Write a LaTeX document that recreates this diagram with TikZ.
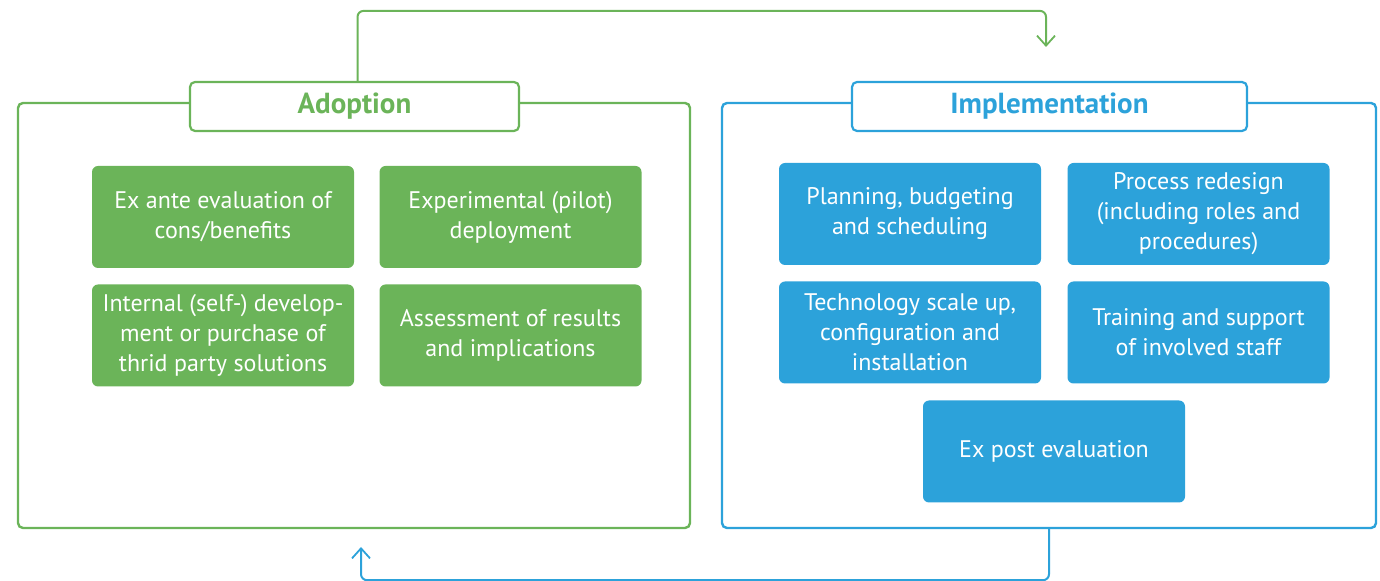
\documentclass[tikz,border=0pt]{standalone}
\usepackage{fontspec}
\setmainfont{PT Sans}
\usepackage{tikz}
\usetikzlibrary{positioning,arrows.meta}
\definecolor{adoptgreen}{RGB}{107,180,89}
\definecolor{implblue}{RGB}{44,162,218}

\begin{document}
\begin{tikzpicture}[
    x=0.5pt, y=-0.5pt,
    on grid,
    font=\fontsize{12}{15}\selectfont,
    frame/.style={draw=#1, line width=1.2pt, rounded corners=2.5pt,
        minimum height=212.5pt, inner sep=0pt},
    title/.style={draw=#1, line width=1.1pt, fill=white, rounded corners=2.5pt,
        minimum height=24.5pt, text=#1, font=\fontsize{14.5}{16}\bfseries},
    gbox/.style={fill=adoptgreen, rounded corners=3pt, text=white,
        minimum width=131pt, minimum height=51pt, align=center, inner sep=0pt},
    bbox/.style={gbox, fill=implblue},
    loop/.style={draw=#1, line width=1pt, rounded corners=3pt,
        -{Straight Barb[length=5pt,width=9pt,line width=0.9pt]}}]
    \useasboundingbox (0,0) rectangle (1380,581);
    % the two phases
    \node[frame=adoptgreen, minimum width=336pt] (adoptframe) at (354,315.5) {};
    \node[frame=implblue, minimum width=327pt] (implframe) at (1049,315.5) {};
    \node[title=adoptgreen, minimum width=164.5pt] (adopttitle) at (354.5,106.5) {Adoption};
    \node[title=implblue, minimum width=197.5pt] (impltitle) at (1049.5,106.5) {Implementation};
    % adoption steps
    \node[gbox] (exante) at (223,217) {Ex ante evaluation of\\cons/benefits};
    \node[gbox] (pilot) [right=143.75pt of exante] {Experimental (pilot)\\deployment};
    \node[gbox] (selfdev) [below=59.25pt of exante] {Internal (self-) develop-\\ment or purchase of\\thrid party solutions};
    \node[gbox] (assess) [right=143.75pt of selfdev] {Assessment of results\\and implications};
    % implementation steps
    \node[bbox] (planning) at (910,214) {Planning, budgeting\\and scheduling};
    \node[bbox] (redesign) [right=144.25pt of planning] {Process redesign\\(including roles and\\procedures)};
    \node[bbox] (scaleup) [below=59.25pt of planning] {Technology scale up,\\configuration and\\installation};
    \node[bbox] (training) [right=144.25pt of scaleup] {Training and support\\of involved staff};
    \node[bbox] (expost) at (1054,451.5) {Ex post evaluation};
    % cycle
    \coordinate (topend) at (1046,47);
    \coordinate (botend) at (361,547);
    \draw[loop=adoptgreen] ([xshift=1.5pt]adopttitle.north) -- ++(0,-70) -| (topend);
    \draw[loop=implblue] (implframe.south) -- ++(0,51) -| (botend);
\end{tikzpicture}
\end{document}
